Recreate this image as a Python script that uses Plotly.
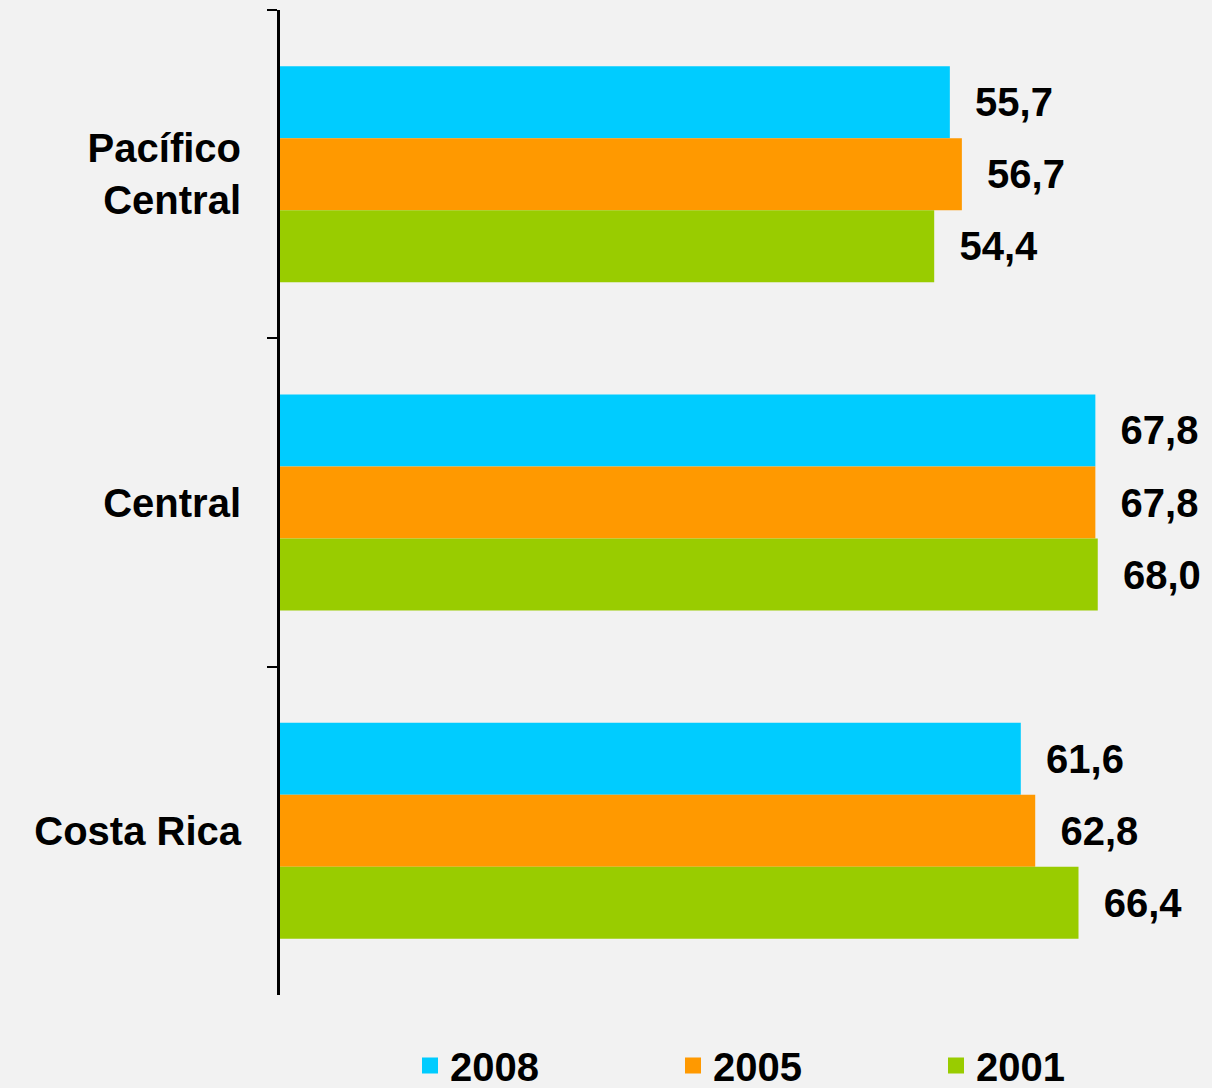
import plotly.graph_objects as go

categories = ["Pacífico<br>Central", "Central", "Costa Rica"]
years = ["2008", "2005", "2001"]
values_2008 = [55.7, 67.8, 61.6]
values_2005 = [56.7, 67.8, 62.8]
values_2001 = [54.4, 68.0, 66.4]
colors = ["#00CCFF", "#FF9900", "#99CC00"]

series = [values_2008, values_2005, values_2001]
FONT = "Liberation Sans, Arial"

fig = go.Figure()
for name, vals, col in zip(years, series, colors):
    fig.add_trace(go.Bar(
        y=categories, x=vals, orientation="h", name=name,
        marker=dict(color=col, line=dict(width=0)),
        texttemplate="\u00a0\u00a0%{x:.1f}", textposition="outside",
        textfont=dict(family=FONT, size=40, color="black", weight="bold"),
        cliponaxis=False, showlegend=False,
    ))
# legend entries
for name, col in zip(years, colors):
    fig.add_trace(go.Scatter(
        x=[None], y=[None], mode="markers", name=name,
        marker=dict(symbol="square", size=16, color=col),
        showlegend=True,
    ))

fig.update_layout(
    width=1212, height=1088,
    margin=dict(l=280, r=0, t=10, b=93),
    paper_bgcolor="#F2F2F2", plot_bgcolor="#F2F2F2",
    barmode="group", bargap=0.342, bargroupgap=0,
    separators=",.",
    font=dict(family=FONT, size=40, color="black", weight="bold"),
    xaxis=dict(range=[0, 77.5], visible=False),
    yaxis=dict(
        autorange="reversed", showline=True, linecolor="black", linewidth=3,
        ticks="outside", tickson="boundaries", ticklen=10, tickwidth=2, tickcolor="black",
        ticklabelstandoff=28, showgrid=False, zeroline=False,
        tickfont=dict(family=FONT, size=40, color="black", weight="bold"),
    ),
    legend=dict(
        orientation="h", xref="container", yref="container",
        x=410 / 1212, y=55 / 1088, xanchor="left", yanchor="top",
        entrywidth=218, entrywidthmode="pixels", bgcolor="rgba(0,0,0,0)",
        font=dict(family=FONT, size=40, color="black", weight="bold"),
    ),
)

fig.write_html("out.html", post_script="document.body.style.margin='0';",
               config={"displayModeBar": False})
